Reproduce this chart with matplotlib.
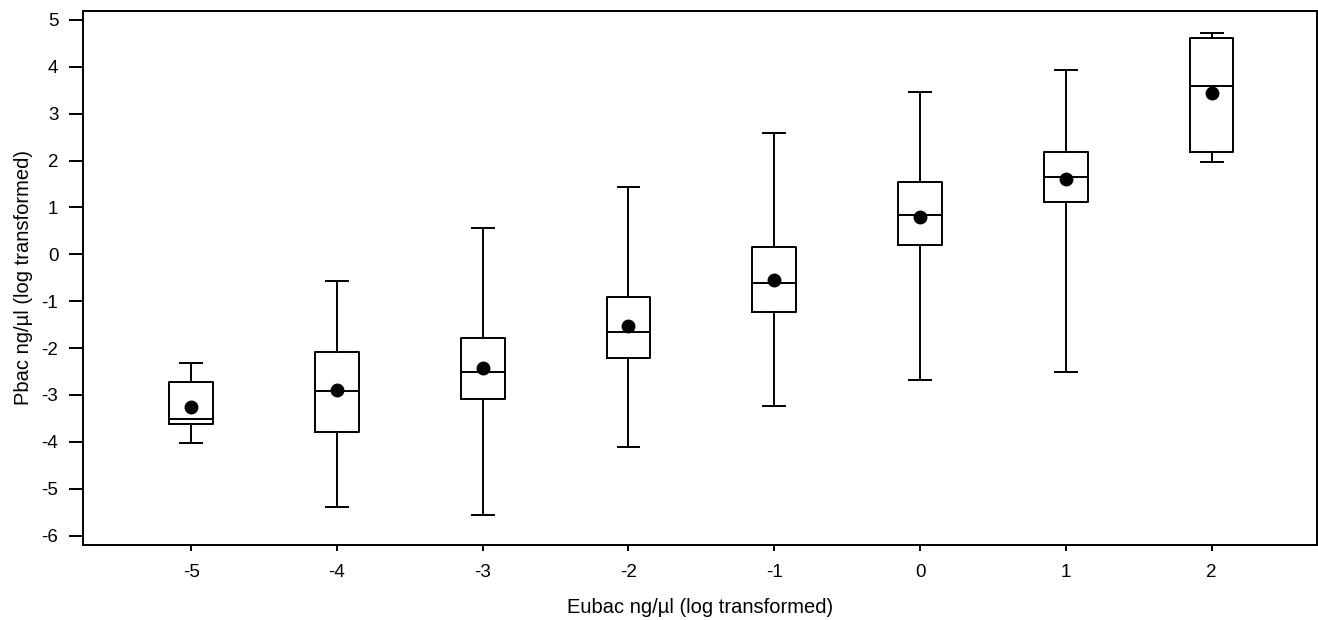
import numpy as np
import matplotlib
matplotlib.use("Agg")
from matplotlib import pyplot as plt

plt.rcParams['font.family'] = ['Liberation Sans', 'DejaVu Sans']
plt.rcParams['axes.unicode_minus'] = False

# Eubac groups (log transformed) and box statistics
groups = [-5, -4, -3, -2, -1, 0, 1, 2]
whislo = [-4.02, -5.38, -5.57, -4.11, -3.24, -2.69, -2.52, 1.96]
q1 = [-3.62, -3.78, -3.09, -2.22, -1.24, 0.19, 1.11, 2.18]
med = [-3.51, -2.91, -2.52, -1.65, -0.61, 0.83, 1.64, 3.60]
q3 = [-2.72, -2.08, -1.79, -0.92, 0.16, 1.54, 2.19, 4.62]
whishi = [-2.32, -0.57, 0.56, 1.44, 2.59, 3.46, 3.93, 4.72]
means = [-3.25, -2.89, -2.42, -1.53, -0.55, 0.80, 1.61, 3.45]

stats = []
for i in range(len(groups)):
    stats.append(dict(whislo=whislo[i], q1=q1[i], med=med[i], q3=q3[i],
                      whishi=whishi[i], mean=means[i], fliers=[]))

fig = plt.figure(figsize=(13.18, 6.2), dpi=100)
ax = fig.add_axes([0.0632, 0.121, 0.9357, 0.8613])

lw = 1.4
ax.bxp(stats, positions=groups, widths=0.3, showmeans=True, showfliers=False,
       boxprops=dict(color='black', linewidth=lw),
       medianprops=dict(color='black', linewidth=lw),
       whiskerprops=dict(color='black', linewidth=lw),
       capprops=dict(color='black', linewidth=lw),
       meanprops=dict(marker='o', markerfacecolor='black', markeredgecolor='black',
                      markersize=9))

ax.set_xlim(-5.74, 2.72)
ax.set_ylim(-6.2, 5.19)
ax.set_xticks(groups)
ax.set_xticklabels([str(g) for g in groups])
ax.set_yticks(range(-6, 6))
ax.tick_params(axis='y', length=10, width=lw, labelsize=13.5, pad=8)
ax.tick_params(axis='x', length=4, width=lw, labelsize=13.5, pad=10)
for s in ax.spines.values():
    s.set_linewidth(lw)

ax.set_xlabel('Eubac ng/µl (log transformed)', fontsize=14.5, labelpad=12)
ax.set_ylabel('Pbac ng/µl (log transformed)', fontsize=14.5, labelpad=6)

fig.savefig('out.png', dpi=100)
